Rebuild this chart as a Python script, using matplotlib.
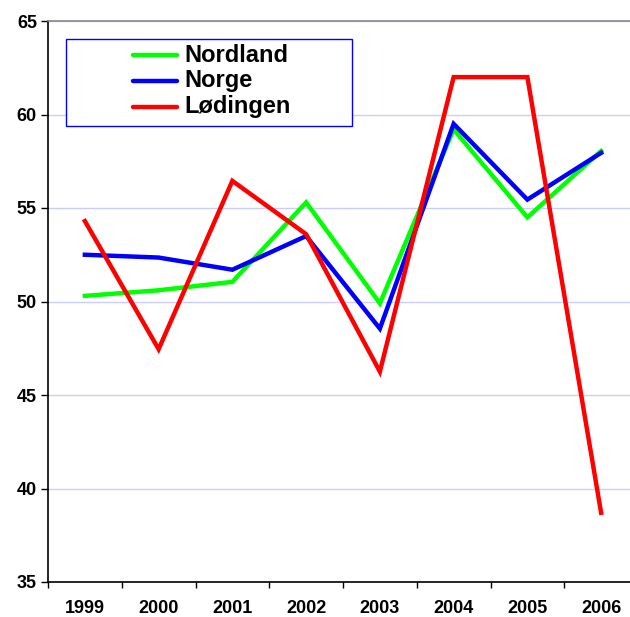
import matplotlib
matplotlib.use("Agg")
import matplotlib.pyplot as plt
from matplotlib.lines import Line2D
import numpy as np

years = ["1999", "2000", "2001", "2002", "2003", "2004", "2005", "2006"]
nordland = [50.3, 50.6, 51.05, 55.3, 49.9, 59.2, 54.5, 58.05]
norge = [52.5, 52.35, 51.7, 53.5, 48.55, 59.5, 55.45, 57.95]
lodingen = [54.3, 47.45, 56.45, 53.6, 46.25, 62.0, 62.0, 38.7]
series_names = ["Nordland", "Norge", "Lødingen"]
series_colors = ["#00ff00", "#0000ff", "#ff0000"]

plt.rcParams['font.family'] = ['Liberation Sans', 'DejaVu Sans']

fig = plt.figure(figsize=(6.3, 6.17), dpi=100)
W, H = 630, 617
left, right, top, bottom = 48, 638, 21, 582
ax = fig.add_axes([left / W, 1 - bottom / H, (right - left) / W, (bottom - top) / H])

x = np.arange(len(years))
for i, (vals, c) in enumerate(zip([nordland, norge, lodingen], series_colors)):
    ax.plot(x, vals, color=c, lw=3.2, solid_joinstyle="miter", zorder=3 + i)

ax.set_xlim(-0.5, len(years) - 0.5)
ax.set_ylim(35, 65)
ax.set_yticks(range(35, 66, 5))
ax.set_yticklabels([str(v) for v in range(35, 66, 5)], fontsize=13, fontweight="bold")
ax.grid(axis="y", color="#ccccff", lw=1)
ax.set_axisbelow(True)

ax.set_xticks(x)
ax.set_xticklabels(years, fontsize=13, fontweight="bold")
ax.tick_params(axis="x", which="major", length=0, pad=13)
ax.set_xticks(np.arange(-0.5, len(years), 1), minor=True)
ax.tick_params(axis="x", which="minor", length=4, width=1, direction="out", color="black")
ax.tick_params(axis="y", length=5, width=1, direction="out", pad=3)

for s in ["left", "bottom"]:
    ax.spines[s].set_color("black")
    ax.spines[s].set_linewidth(1.2)
ax.spines["top"].set_color("#888888")
ax.spines["top"].set_linewidth(1.2)
ax.spines["right"].set_visible(False)

# legend box (blue border)
bx0, bx1, by0, by1 = 66, 352, 39, 126
box = plt.Rectangle((bx0 / W, 1 - by1 / H), (bx1 - bx0) / W, (by1 - by0) / H,
                    transform=fig.transFigure, fill=True, facecolor="white",
                    edgecolor="#0000ff", lw=1, zorder=10)
fig.add_artist(box)
rows_y = [55, 81, 107]
for name, c, ry in zip(series_names, series_colors, rows_y):
    yf = 1 - ry / H
    fig.add_artist(Line2D([133 / W, 177 / W], [yf, yf], transform=fig.transFigure,
                          color=c, lw=3.2, zorder=11, solid_capstyle="round"))
    fig.text(184 / W, yf, name, fontsize=17, fontweight="bold", va="center",
             ha="left", zorder=11)

fig.savefig("out.png", dpi=100)
